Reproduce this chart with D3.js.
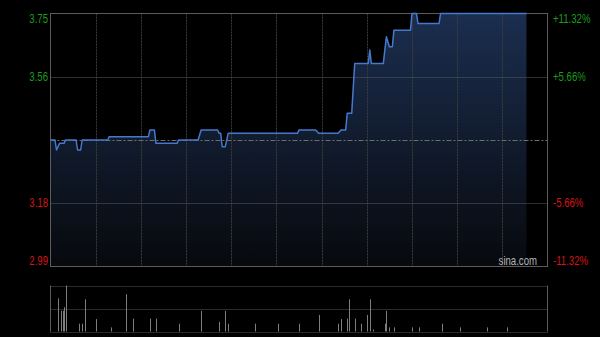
<!DOCTYPE html>
<html>
<head>
<meta charset="utf-8">
<script src="https://cdn.jsdelivr.net/npm/d3@7"></script>
<style>
  html, body { margin: 0; padding: 0; background: #000; }
  svg { display: block; }
  text { font-family: "Liberation Sans", Arial, sans-serif; font-size: 12px; }
</style>
</head>
<body>
<script>
// intraday price, minutes from 9:30 (HK session = 330 min)
var lineMinutes = [0, 3, 4, 6, 9, 10, 17, 18, 20, 21, 38, 39, 65, 66, 69, 70, 84, 85, 98, 100,
                   111, 112, 113, 114, 116, 118, 164, 165, 176, 178, 191, 193, 196, 197, 200, 202,
                   211, 212, 213, 221, 223, 225, 227, 228, 239, 240, 243, 244, 258, 259, 316];
var linePrices  = [3.37, 3.37, 3.34, 3.36, 3.36, 3.37, 3.37, 3.34, 3.34, 3.37, 3.37, 3.38, 3.38, 3.40, 3.40, 3.36, 3.36, 3.37, 3.37, 3.40,
                   3.40, 3.39, 3.39, 3.35, 3.35, 3.39, 3.39, 3.40, 3.40, 3.39, 3.39, 3.40, 3.40, 3.45, 3.45, 3.60,
                   3.60, 3.64, 3.60, 3.60, 3.68, 3.65, 3.65, 3.70, 3.70, 3.75, 3.75, 3.72, 3.72, 3.75, 3.75];

// volume bars (thousand shares)
var volMinutes = [5, 7, 8, 9, 10, 19, 21, 23, 30, 40, 50, 55, 66, 70, 85, 100, 112, 116, 118, 136, 151,
                  165, 178, 191, 193, 197, 198, 202, 206, 210, 212, 214, 222, 223, 225, 228, 240, 245, 260, 272, 290, 303];
var volValues  = [72, 45, 45, 53, 100, 17, 17, 70, 27, 9, 81, 28, 28, 28, 17, 45, 21, 45, 17, 17, 17,
                  17, 36, 17, 27, 28, 70, 28, 17, 36, 70, 4, 17, 45, 9, 9, 9, 9, 17, 9, 9, 9];

var priceLabels = ["3.75", "3.56", "3.18", "2.99"];
var priceLevels = [3.75, 3.56, 3.18, 2.99];
var pctLabels = ["+11.32%", "+5.66%", "-5.66%", "-11.32%"];
var prevClose = 3.37;
var gridMinutes = [30, 60, 90, 120, 150, 180, 210, 240, 270, 300];

var W = 600, H = 337;
var green = "#1c9c1c", red = "#d41414";

var svg = d3.select("body").append("svg")
  .attr("width", W)
  .attr("height", H);

var x = d3.scaleLinear().domain([0, 330]).range([50.5, 547.5]);
var y = d3.scaleLinear().domain([2.99, 3.75]).range([266.5, 13.5]);
var yV = d3.scaleLinear().domain([0, 100]).range([331.5, 285.5]);

function px(v) { return Math.round(v) + 0.5; }

var defs = svg.append("defs");
var grad = defs.append("linearGradient")
  .attr("id", "fillGrad")
  .attr("gradientUnits", "userSpaceOnUse")
  .attr("x1", 0).attr("y1", y(3.75))
  .attr("x2", 0).attr("y2", y(2.99));
grad.append("stop").attr("offset", "0%").attr("stop-color", "#1b2e4f");
grad.append("stop").attr("offset", "100%").attr("stop-color", "#07090d");

var pts = lineMinutes.map(function(m, i) { return { m: m, p: linePrices[i] }; });

// area under price
var area = d3.area()
  .x(function(d) { return x(d.m); })
  .y0(y(2.99))
  .y1(function(d) { return y(d.p); });

svg.append("path")
  .datum(pts)
  .attr("d", area)
  .attr("fill", "url(#fillGrad)");

// vertical grid
svg.selectAll("line.vgrid")
  .data(gridMinutes)
  .enter().append("line")
  .attr("class", "vgrid")
  .attr("x1", function(d) { return px(x(d)); })
  .attr("x2", function(d) { return px(x(d)); })
  .attr("y1", y(3.75))
  .attr("y2", y(2.99))
  .attr("stroke", "#3c3c3c")
  .attr("stroke-dasharray", "2,1");

// horizontal grid
svg.selectAll("line.hgrid")
  .data([3.56, 3.18])
  .enter().append("line")
  .attr("class", "hgrid")
  .attr("x1", x(0))
  .attr("x2", x(330))
  .attr("y1", function(d) { return px(y(d)); })
  .attr("y2", function(d) { return px(y(d)); })
  .attr("stroke", "#5a5a5a")
  .attr("stroke-dasharray", "1,1");

svg.append("line")
  .attr("x1", x(0)).attr("x2", x(330))
  .attr("y1", px(y(prevClose))).attr("y2", px(y(prevClose)))
  .attr("stroke", "#6e6e6e")
  .attr("stroke-dasharray", "5,2,2,2");

// frame
svg.append("rect")
  .attr("x", x(0)).attr("y", y(3.75))
  .attr("width", x(330) - x(0))
  .attr("height", y(2.99) - y(3.75))
  .attr("fill", "none")
  .attr("stroke", "#5c5c5c");

// price line
var line = d3.line()
  .x(function(d) { return x(d.m); })
  .y(function(d) { return y(d.p); });

svg.append("path")
  .datum(pts)
  .attr("d", line)
  .attr("fill", "none")
  .attr("stroke", "#4479cf")
  .attr("stroke-width", 1.5)
  .attr("stroke-linejoin", "round");

// axis labels (narrow rendering)
var baseY = [23.3, 81, 207, 264.6];

svg.selectAll("text.pl")
  .data(priceLabels)
  .enter().append("text")
  .attr("class", "pl")
  .attr("text-anchor", "end")
  .attr("transform", function(d, i) { return "translate(48," + baseY[i] + ") scale(0.8,1)"; })
  .attr("fill", function(d, i) { return priceLevels[i] > prevClose ? green : red; })
  .text(function(d) { return d; });

svg.selectAll("text.pct")
  .data(pctLabels)
  .enter().append("text")
  .attr("class", "pct")
  .attr("text-anchor", "start")
  .attr("transform", function(d, i) { return "translate(553," + baseY[i] + ") scale(0.8,1)"; })
  .attr("fill", function(d, i) { return priceLevels[i] > prevClose ? green : red; })
  .text(function(d) { return d; });

svg.append("text")
  .attr("text-anchor", "end")
  .attr("transform", "translate(537,264.5) scale(0.8,1)")
  .attr("fill", "#b4b4b4")
  .text("sina.com");

// volume panel
[100, 50, 0].forEach(function(v) {
  svg.append("line")
    .attr("x1", x(0)).attr("x2", x(330))
    .attr("y1", px(yV(v))).attr("y2", px(yV(v)))
    .attr("stroke", "#555")
    .attr("stroke-dasharray", "1,1");
});
[0, 330].forEach(function(m) {
  svg.append("line")
    .attr("x1", x(m)).attr("x2", x(m))
    .attr("y1", yV(100)).attr("y2", yV(0))
    .attr("stroke", "#5c5c5c");
});

svg.selectAll("rect.vol")
  .data(volValues)
  .enter().append("rect")
  .attr("class", "vol")
  .attr("x", function(d, i) { return Math.round(x(volMinutes[i])); })
  .attr("width", 1)
  .attr("y", function(d) { return yV(d); })
  .attr("height", function(d) { return yV(0) - yV(d); })
  .attr("fill", "#7e7e7e");
</script>
</body>
</html>
